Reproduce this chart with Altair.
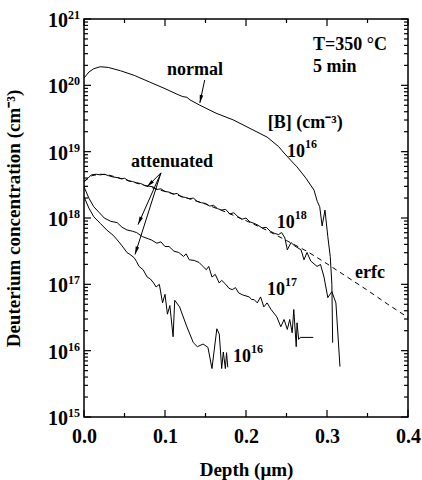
import math
import altair as alt
import pandas as pd

# ---------------- data (depth in um, log10 of concentration in cm^-3) ----------------
normal_d = [0.000, 0.006, 0.012, 0.020, 0.030, 0.045, 0.062, 0.081, 0.100, 0.116, 0.122, 0.127,
            0.131, 0.143, 0.163, 0.184, 0.205, 0.226, 0.240, 0.247, 0.256, 0.263, 0.274, 0.284,
            0.288, 0.291, 0.294, 0.2975, 0.301, 0.304, 0.306, 0.307]
normal_lg = [20.11, 20.20, 20.25, 20.28, 20.27, 20.22, 20.15, 20.05, 19.95, 19.86, 19.83, 19.82,
             19.78, 19.70, 19.58, 19.48, 19.35, 19.22, 19.08, 18.98, 18.86, 18.77, 18.60, 18.42,
             18.25, 18.17, 17.88, 18.12, 17.72, 17.42, 17.00, 16.12]

b18_d = [0.000, 0.005, 0.009, 0.015, 0.020, 0.025, 0.030, 0.035, 0.041, 0.046, 0.050, 0.055,
         0.060, 0.065, 0.070, 0.075, 0.080, 0.085, 0.090, 0.095, 0.100, 0.105, 0.110, 0.115,
         0.120, 0.125, 0.130, 0.135, 0.140, 0.145, 0.150, 0.155, 0.160, 0.165, 0.170, 0.175,
         0.180, 0.185, 0.190, 0.195, 0.200, 0.205, 0.210, 0.215, 0.220, 0.225, 0.230, 0.235,
         0.240, 0.244, 0.248, 0.251, 0.2556, 0.260, 0.268, 0.2716, 0.2753, 0.280, 0.2877,
         0.292, 0.2963, 0.301, 0.306, 0.311, 0.316]
b18_lg = [18.55, 18.60, 18.65, 18.66, 18.65, 18.66, 18.64, 18.62, 18.61, 18.59, 18.60, 18.56,
          18.55, 18.53, 18.52, 18.49, 18.48, 18.47, 18.43, 18.44, 18.40, 18.39, 18.36, 18.37,
          18.32, 18.31, 18.29, 18.30, 18.25, 18.23, 18.22, 18.18, 18.19, 18.14, 18.12, 18.13,
          18.06, 18.08, 18.02, 17.98, 18.00, 17.94, 17.92, 17.89, 17.85, 17.86, 17.80, 17.77,
          17.75, 17.78, 17.70, 17.52, 17.63, 17.58, 17.52, 17.37, 17.48, 17.35, 17.27,
          17.30, 17.11, 16.80, 16.89, 16.72, 15.76]

b17_d = [0.000, 0.006, 0.012, 0.019, 0.025, 0.033, 0.041, 0.047, 0.053, 0.060, 0.065, 0.072,
         0.083, 0.090, 0.095, 0.100, 0.105, 0.111, 0.117, 0.123, 0.126, 0.130, 0.136, 0.142,
         0.146, 0.151, 0.154, 0.158, 0.162, 0.167, 0.170, 0.175, 0.179, 0.183, 0.187, 0.191,
         0.196, 0.204, 0.207, 0.210, 0.214, 0.218, 0.222, 0.226, 0.231, 0.238, 0.243, 0.247,
         0.251, 0.254, 0.257, 0.259, 0.262, 0.263, 0.265, 0.267, 0.283]
b17_lg = [18.47, 18.30, 18.17, 18.08, 18.00, 17.95, 17.93, 17.86, 17.82, 17.80, 17.78, 17.72,
          17.67, 17.62, 17.64, 17.57, 17.57, 17.50, 17.48, 17.42, 17.46, 17.37, 17.36, 17.33,
          17.28, 17.22, 17.27, 17.11, 17.15, 17.02, 17.06, 17.00, 16.94, 16.92, 16.95, 16.87,
          16.84, 16.81, 16.77, 16.77, 16.72, 16.81, 16.66, 16.72, 16.62, 16.51, 16.36, 16.47,
          16.32, 16.47, 16.27, 16.62, 16.06, 16.42, 16.17, 16.20, 16.20]

b16_d = [0.000, 0.006, 0.012, 0.020, 0.028, 0.036, 0.041, 0.047, 0.053, 0.058, 0.062, 0.065,
         0.068, 0.073, 0.078, 0.082, 0.086, 0.089, 0.093, 0.097, 0.100, 0.103, 0.106, 0.110,
         0.112, 0.118, 0.127, 0.135, 0.140, 0.147, 0.153, 0.158, 0.164, 0.167, 0.170, 0.172,
         0.1745, 0.176, 0.1775]
b16_lg = [18.32, 18.15, 18.02, 17.92, 17.82, 17.74, 17.67, 17.58, 17.48, 17.44, 17.40, 17.34,
          17.27, 17.22, 17.11, 17.08, 17.02, 16.96, 17.00, 16.72, 16.85, 16.55, 16.68, 16.21,
          16.76, 16.66, 16.36, 16.12, 16.06, 16.10, 16.05, 15.73, 16.33, 16.25, 15.73, 15.98,
          15.73, 15.97, 15.75]

erfc_d = [0.0, 0.01, 0.02, 0.03, 0.05, 0.075, 0.1, 0.125, 0.15, 0.175, 0.2, 0.225, 0.25,
          0.275, 0.3, 0.325, 0.35, 0.375, 0.4]
erfc_lg = [18.55, 18.64, 18.66, 18.65, 18.58, 18.49, 18.40, 18.31, 18.21, 18.09, 17.96, 17.82,
           17.66, 17.50, 17.31, 17.11, 16.91, 16.70, 16.50]

# axis ticks / labels
x_label_vals = [0.0, 0.1, 0.2, 0.3, 0.4]
x_minor_vals = [0.05, 0.15, 0.25, 0.35]
y_decades = [15, 16, 17, 18, 19, 20, 21]
y_minor_mult = [2, 3, 4, 5, 6, 7, 8, 9]

# annotations
left_text = ["T=350 °C", "5 min", "[B] (cm⁻³)", "erfc"]
left_d = [0.2827, 0.2827, 0.227, 0.3346]
left_lg = [20.53, 20.20, 19.36, 17.10]

center_text = ["normal", "attenuated"]
center_d = [0.137, 0.1086]
center_lg = [20.157, 18.77]

pow_exp = ["16", "18", "17", "16"]
pow_d = [0.2506, 0.238, 0.226, 0.184]
pow_lg = [18.92, 17.85, 16.84, 15.83]

arrow_d0 = [0.149, 0.095, 0.095, 0.095]
arrow_lg0 = [20.08, 18.68, 18.68, 18.68]
arrow_d1 = [0.143, 0.0778, 0.0667, 0.063]
arrow_lg1 = [19.735, 18.47, 17.90, 17.45]

# ---------------- layout ----------------
W, H = 324, 398
FONT = "Liberation Serif, Times New Roman, Times, serif"
XMAX = 0.4
LMIN, LMAX = 15, 21

xs = alt.Scale(domain=[0, XMAX], nice=False, zero=False)
ys = alt.Scale(type="log", domain=[10 ** LMIN, 10 ** LMAX], nice=False)

X_AXIS = alt.Axis(
    values=x_label_vals, format=".1f", ticks=False, domain=False, grid=False,
    labelFont=FONT, labelFontWeight="bold", labelFontSize=20, labelColor="black",
    labelPadding=9, title="Depth (μm)", titleFont=FONT, titleFontWeight="bold",
    titleFontSize=19, titleColor="black", titlePadding=14, labelFlush=False)
Y_AXIS = alt.Axis(
    labels=False, ticks=False, domain=False, grid=False,
    title="Deuterium concentration (cm⁻³)", titleFont=FONT, titleFontWeight="bold",
    titleFontSize=19, titleColor="black", titlePadding=61)


def XF(f):
    return alt.X(f, scale=xs, axis=X_AXIS)


def YF(f):
    return alt.Y(f, scale=ys, axis=Y_AXIS)


def curve(name, d, lg):
    return pd.DataFrame({"depth": d, "conc": [10 ** v for v in lg], "series": name})


solid = pd.concat([
    curve("normal", normal_d, normal_lg),
    curve("1e18", b18_d, b18_lg),
    curve("1e17", b17_d, b17_lg),
    curve("1e16", b16_d, b16_lg),
])
erfc = curve("erfc", erfc_d, erfc_lg)

lines = alt.Chart(solid).mark_line(color="black", strokeWidth=1, clip=True).encode(
    x=XF("depth:Q"), y=YF("conc:Q"), detail="series:N", order="depth:Q")

dashed = alt.Chart(erfc).mark_line(color="black", strokeWidth=1, strokeDash=[5, 4], clip=True).encode(
    x=XF("depth:Q"), y=YF("conc:Q"))

# inward ticks
xt = pd.DataFrame({"depth": x_label_vals + x_minor_vals,
                   "len": [7] * len(x_label_vals) + [4] * len(x_minor_vals)})
yt_vals = [10 ** e for e in y_decades] + [m * 10 ** e for e in y_decades[:-1] for m in y_minor_mult]
yt_len = [7] * len(y_decades) + [4] * (len(yt_vals) - len(y_decades))
yt = pd.DataFrame({"conc": yt_vals, "len": yt_len})

tick_layers = []
for L in (7, 4):
    xdf = xt[xt["len"] == L]
    ydf = yt[yt["len"] == L]
    tick_layers.append(alt.Chart(xdf).mark_rule(color="black", strokeWidth=1.2).encode(
        x=XF("depth:Q"), y=alt.value(H), y2=alt.value(H - L)))
    tick_layers.append(alt.Chart(xdf).mark_rule(color="black", strokeWidth=1.2).encode(
        x=XF("depth:Q"), y=alt.value(0), y2=alt.value(L)))
    tick_layers.append(alt.Chart(ydf).mark_rule(color="black", strokeWidth=1.2).encode(
        y=YF("conc:Q"), x=alt.value(0), x2=alt.value(L)))
    tick_layers.append(alt.Chart(ydf).mark_rule(color="black", strokeWidth=1.2).encode(
        y=YF("conc:Q"), x=alt.value(W), x2=alt.value(W - L)))

# y tick labels 10^n
ylab = pd.DataFrame({"conc": [10 ** e for e in y_decades], "base": ["10"] * len(y_decades),
                     "exp": [str(e) for e in y_decades]})
ylab_base = alt.Chart(ylab).mark_text(align="right", baseline="alphabetic", dy=8, fontSize=20,
                                      font=FONT, fontWeight="bold", color="black").encode(
    x=alt.value(-16), y=YF("conc:Q"), text="base:N")
ylab_exp = alt.Chart(ylab).mark_text(align="left", baseline="alphabetic", dy=0, fontSize=12,
                                     font=FONT, fontWeight="bold", color="black").encode(
    x=alt.value(-16), y=YF("conc:Q"), text="exp:N")

# annotations
ann_left = pd.DataFrame({"depth": left_d, "conc": [10 ** v for v in left_lg], "t": left_text})
ann_center = pd.DataFrame({"depth": center_d, "conc": [10 ** v for v in center_lg], "t": center_text})
ann_pow = pd.DataFrame({"depth": pow_d, "conc": [10 ** v for v in pow_lg], "base": ["10"] * 4,
                        "exp": pow_exp})

t_left = alt.Chart(ann_left).mark_text(align="left", baseline="alphabetic", fontSize=18, font=FONT,
                                       fontWeight="bold", color="black").encode(
    x=XF("depth:Q"), y=YF("conc:Q"), text="t:N")
t_center = alt.Chart(ann_center).mark_text(align="center", baseline="alphabetic", fontSize=18,
                                           font=FONT, fontWeight="bold", color="black").encode(
    x=XF("depth:Q"), y=YF("conc:Q"), text="t:N")
t_pow_base = alt.Chart(ann_pow).mark_text(align="left", baseline="alphabetic", fontSize=18, font=FONT,
                                          fontWeight="bold", color="black").encode(
    x=XF("depth:Q"), y=YF("conc:Q"), text="base:N")
t_pow_exp = alt.Chart(ann_pow).mark_text(align="left", baseline="alphabetic", fontSize=12, font=FONT,
                                         fontWeight="bold", color="black", dx=18, dy=-9).encode(
    x=XF("depth:Q"), y=YF("conc:Q"), text="exp:N")


# arrows
def px(d):
    return d / XMAX * W


def py(lg):
    return (LMAX - lg) / (LMAX - LMIN) * H


angles = []
for a, b, c, e in zip(arrow_d0, arrow_lg0, arrow_d1, arrow_lg1):
    dx = px(c) - px(a)
    dy = py(e) - py(b)
    angles.append(math.degrees(math.atan2(dx, -dy)) % 360)

arr = pd.DataFrame({"depth": arrow_d0, "conc": [10 ** v for v in arrow_lg0],
                    "d1": arrow_d1, "c1": [10 ** v for v in arrow_lg1], "ang": angles})
shafts = alt.Chart(arr).mark_rule(color="black", strokeWidth=1).encode(
    x=XF("depth:Q"), x2="d1:Q", y=YF("conc:Q"), y2="c1:Q")
heads = alt.Chart(arr).mark_point(filled=True, shape="M0,0L-0.45,2L0.45,2Z", size=64, color="black",
                                  opacity=1).encode(
    x=XF("d1:Q"), y=YF("c1:Q"), angle=alt.Angle("ang:Q", scale=None))

chart = alt.layer(
    lines, dashed, *tick_layers, ylab_base, ylab_exp, t_left, t_center, t_pow_base, t_pow_exp,
    shafts, heads,
).properties(
    width=W, height=H,
    autosize=alt.AutoSizeParams(type="none"),
    padding={"left": 84, "top": 19, "right": 14, "bottom": 63},
    background="white",
).configure_view(stroke="black", strokeWidth=1.5)

chart.save("out.html", embed_options={"renderer": "svg", "actions": False})
